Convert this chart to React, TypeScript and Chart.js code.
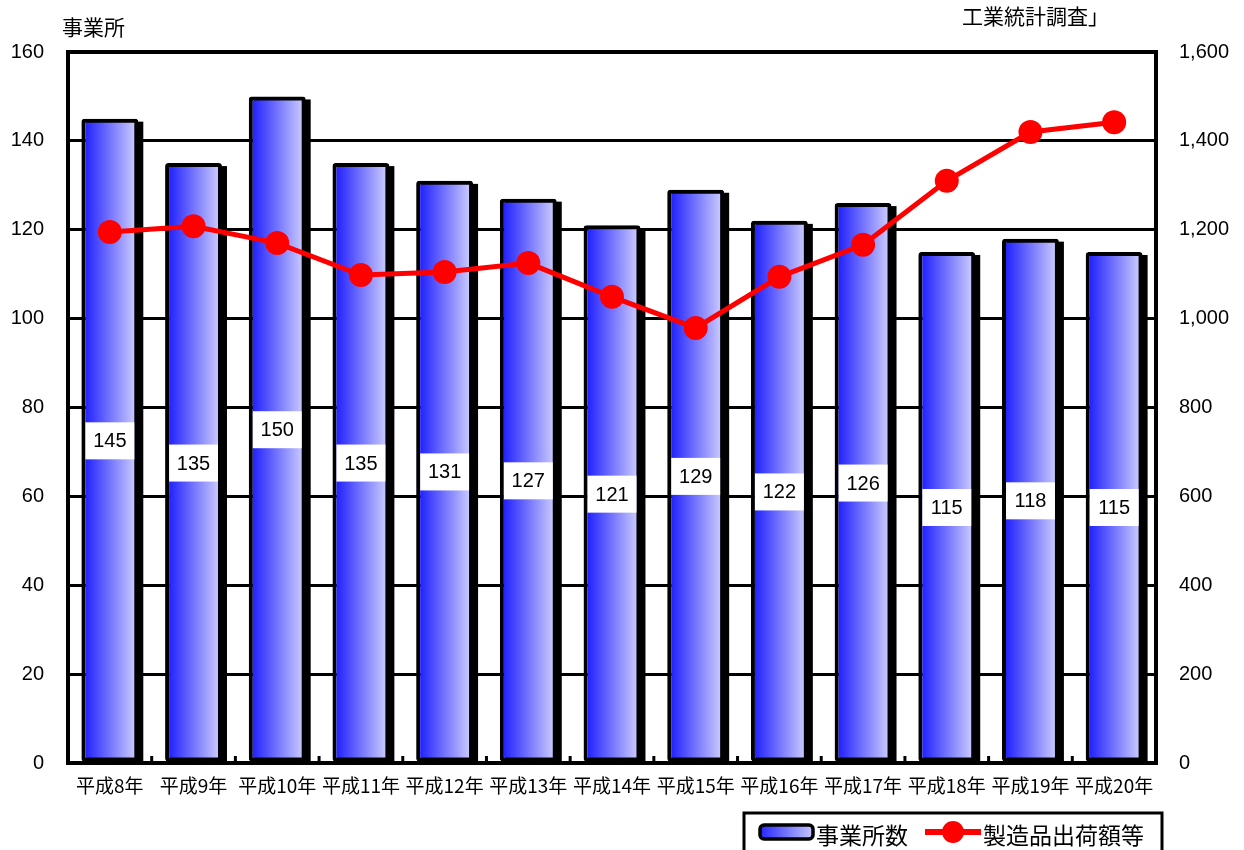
import React, { useEffect, useRef } from 'react';
import { Chart, registerables } from 'chart.js';

Chart.register(...registerables);

const categories = ['平成8年', '平成9年', '平成10年', '平成11年', '平成12年', '平成13年', '平成14年', '平成15年', '平成16年', '平成17年', '平成18年', '平成19年', '平成20年'];
const establishments = [145, 135, 150, 135, 131, 127, 121, 129, 122, 126, 115, 118, 115];
const shipments = [1195, 1208, 1170, 1098, 1105, 1125, 1049, 979, 1094, 1166, 1310, 1420, 1442];
const leftTitle = '事業所';
const sourceNote = '工業統計調査」';
const seriesNames = ['事業所数', '製造品出荷額等'];

const CJK = '"Noto Sans CJK JP", "Noto Sans", sans-serif';
const NUM = '"Liberation Sans", Arial, sans-serif';
const BAR_PCT = 0.68;
const BLUE_L = '#2222ff';
const BLUE_R = '#c6c6ff';

const decorPlugin = {
  id: 'decor',
  beforeDatasetsDraw(chart: any) {
    const { ctx, chartArea: a } = chart;
    ctx.save();
    ctx.strokeStyle = '#000';
    ctx.lineWidth = 3;
    const n = categories.length;
    const step = (a.right - a.left) / n;
    for (let i = 1; i < n; i++) {
      const x = a.left + step * i;
      ctx.beginPath();
      ctx.moveTo(x, a.bottom);
      ctx.lineTo(x, a.bottom - 7);
      ctx.stroke();
    }
    ctx.lineWidth = 4;
    ctx.strokeRect(a.left, a.top, a.right - a.left, a.bottom - a.top);
    ctx.restore();
  },
  beforeDatasetDraw(chart: any, args: any) {
    if (args.index !== 0) return;
    const { ctx, chartArea: a } = chart;
    ctx.save();
    ctx.beginPath();
    ctx.rect(a.left, a.top, a.right - a.left, a.bottom - a.top);
    ctx.clip();
    ctx.fillStyle = '#000';
    args.meta.data.forEach((el: any) => {
      const { x, y, base, width } = el.getProps(['x', 'y', 'base', 'width'], true);
      ctx.fillRect(x - width / 2 + 5, y + 3, width, base - y);
    });
    ctx.restore();
  },
  afterDatasetDraw(chart: any, args: any) {
    if (args.index !== 0) return;
    const { ctx, scales } = chart;
    ctx.save();
    ctx.font = `20px ${NUM}`;
    ctx.textAlign = 'center';
    ctx.textBaseline = 'middle';
    args.meta.data.forEach((el: any, i: number) => {
      const { x, width } = el.getProps(['x', 'width'], true);
      const v = establishments[i];
      const cy = scales.y.getPixelForValue(v / 2);
      const bw = width - 8;
      const bh = 37;
      ctx.fillStyle = '#fff';
      ctx.fillRect(x - bw / 2, cy - bh / 2, bw, bh);
      ctx.fillStyle = '#000';
      ctx.fillText(String(v), x, cy + 1);
    });
    ctx.restore();
  },
  afterDraw(chart: any) {
    const { ctx } = chart;
    ctx.save();
    ctx.fillStyle = '#000';
    ctx.textBaseline = 'middle';
    ctx.font = `21px ${CJK}`;
    ctx.textAlign = 'left';
    ctx.fillText(leftTitle, 62, 27);
    ctx.fillText(sourceNote, 962, 16);

    const lx = 744, ly = 813;
    ctx.lineWidth = 3;
    ctx.strokeStyle = '#000';
    ctx.strokeRect(lx, ly, 418, 45);
    const g = ctx.createLinearGradient(lx + 15, 0, lx + 69, 0);
    g.addColorStop(0, BLUE_L);
    g.addColorStop(1, BLUE_R);
    ctx.beginPath();
    (ctx as any).roundRect(lx + 16, ly + 12, 53, 14, 4);
    ctx.fillStyle = g;
    ctx.fill();
    ctx.lineWidth = 3.5;
    ctx.stroke();
    ctx.fillStyle = '#000';
    ctx.font = `23px ${CJK}`;
    ctx.fillText(seriesNames[0], lx + 72, ly + 22);
    ctx.strokeStyle = '#ff0000';
    ctx.lineWidth = 6;
    ctx.beginPath();
    ctx.moveTo(lx + 181, ly + 19);
    ctx.lineTo(lx + 237, ly + 19);
    ctx.stroke();
    ctx.fillStyle = '#ff0000';
    ctx.beginPath();
    ctx.arc(lx + 209, ly + 19, 11, 0, Math.PI * 2);
    ctx.fill();
    ctx.fillStyle = '#000';
    ctx.fillText(seriesNames[1], lx + 239, ly + 22);
    ctx.restore();
  },
};

export default function App() {
  const ref = useRef<HTMLCanvasElement | null>(null);

  useEffect(() => {
    if (!ref.current) return;
    const chart = new Chart(ref.current, {
      type: 'bar',
      data: {
        labels: categories,
        datasets: [
          {
            type: 'bar',
            label: seriesNames[0],
            data: establishments,
            yAxisID: 'y',
            order: 2,
            categoryPercentage: 1,
            barPercentage: BAR_PCT,
            borderColor: '#000',
            borderWidth: 4,
            borderRadius: 3,
            borderSkipped: false,
            backgroundColor: (c: any) => {
              const chartI = c.chart;
              const xs = chartI.scales && chartI.scales.x;
              if (!xs || c.dataIndex === undefined) return BLUE_L;
              const cx = xs.getPixelForValue(c.dataIndex);
              const w = (xs.width / categories.length) * BAR_PCT;
              const x0 = cx - w / 2 + 4;
              const x1 = cx + w / 2 - 4;
              if (!isFinite(x0) || !isFinite(x1) || x1 <= x0) return BLUE_L;
              const gr = chartI.ctx.createLinearGradient(x0, 0, x1, 0);
              gr.addColorStop(0, BLUE_L);
              gr.addColorStop(1, BLUE_R);
              return gr;
            },
          } as any,
          {
            type: 'line',
            label: seriesNames[1],
            data: shipments,
            yAxisID: 'y1',
            order: 1,
            borderColor: '#ff0000',
            borderWidth: 5,
            backgroundColor: '#ff0000',
            pointRadius: 12,
            pointBorderWidth: 0,
            pointBackgroundColor: '#ff0000',
            tension: 0,
          } as any,
        ],
      },
      options: {
        responsive: false,
        animation: false,
        layout: { padding: { top: 52, left: 0, right: 0, bottom: 0 } },
        plugins: {
          legend: { display: false },
          tooltip: { enabled: false },
        },
        scales: {
          x: {
            grid: { display: false, drawTicks: false },
            border: { display: false },
            ticks: {
              color: '#000',
              font: { family: CJK, size: 19 },
              padding: 11,
              maxRotation: 0,
              autoSkip: false,
            },
            afterFit: (s: any) => { s.height = 87; },
          },
          y: {
            position: 'left',
            min: 0,
            max: 160,
            ticks: {
              stepSize: 20,
              color: '#000',
              font: { family: NUM, size: 20 },
              padding: 24,
            },
            grid: { color: '#000', lineWidth: 3, drawTicks: false },
            border: { display: false },
            afterFit: (s: any) => { s.width = 68; },
          },
          y1: {
            position: 'right',
            min: 0,
            max: 1600,
            ticks: {
              stepSize: 200,
              color: '#000',
              font: { family: NUM, size: 20 },
              padding: 23,
              callback: (v: any) => Number(v).toLocaleString('en-US'),
            },
            grid: { display: false, drawTicks: false },
            border: { display: false },
            afterFit: (s: any) => { s.width = 88; },
          },
        },
      } as any,
      plugins: [decorPlugin],
    });
    return () => chart.destroy();
  }, []);

  return (
    <div style={{ position: 'absolute', left: 0, top: 0, width: 1244, height: 850, background: '#fff' }}>
      <canvas ref={ref} width={1244} height={850} />
    </div>
  );
}
